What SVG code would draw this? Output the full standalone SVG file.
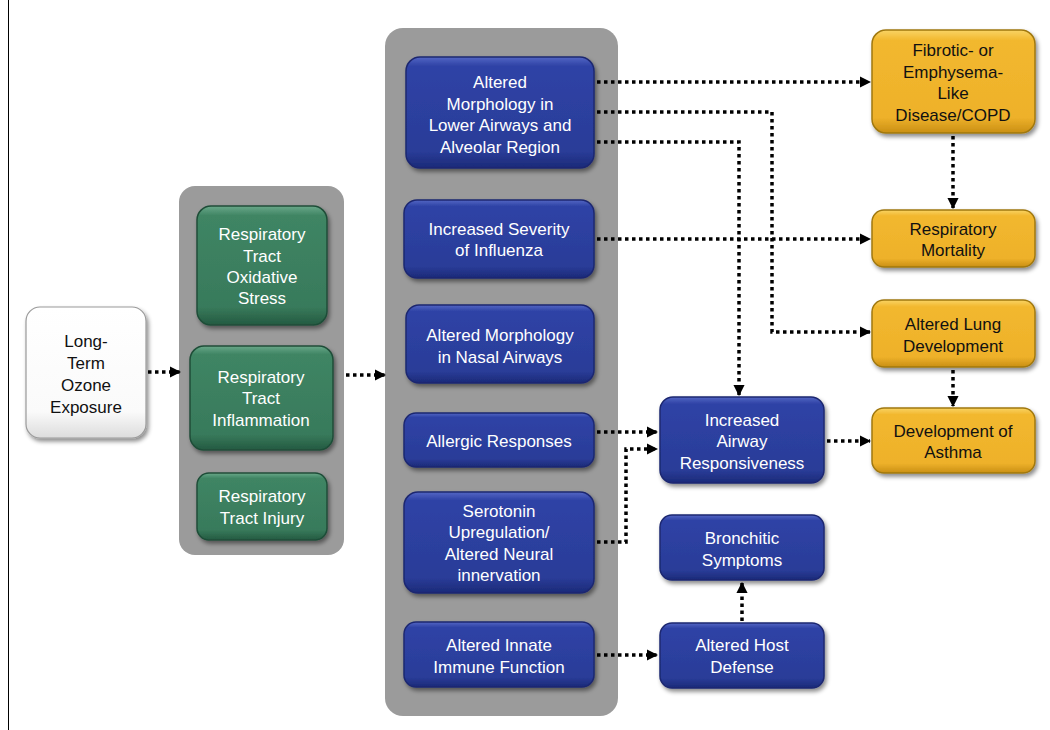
<svg xmlns="http://www.w3.org/2000/svg" width="1050" height="730" viewBox="0 0 1050 730">
<style>
text{font-family:"Liberation Sans",Arial,sans-serif;font-size:17px;text-anchor:middle}
.w{fill:#ffffff}
.k{fill:#111111}
.cont{fill:#9b9b9b}
.blue{fill:url(#gb);stroke:#1c2870;stroke-width:1.5;filter:url(#sh)}
.green{fill:url(#gg);stroke:#1f4d38;stroke-width:1.5;filter:url(#sh)}
.yel{fill:url(#gy);stroke:#a07810;stroke-width:1.5;filter:url(#sh)}
.wht{fill:url(#gw);stroke:#9a9a9a;stroke-width:1.2;filter:url(#sh)}
.c{fill:none;stroke:#000;stroke-width:3.5;stroke-dasharray:3.5 3.5;marker-end:url(#ah)}
</style>
<defs>
<linearGradient id="gb" x1="0" y1="0" x2="0" y2="1">
<stop offset="0" stop-color="#5366c4"/><stop offset="0.08" stop-color="#2f43a6"/><stop offset="0.85" stop-color="#2a3c98"/><stop offset="1" stop-color="#1b2a78"/>
</linearGradient>
<linearGradient id="gg" x1="0" y1="0" x2="0" y2="1">
<stop offset="0" stop-color="#6aa889"/><stop offset="0.08" stop-color="#3f8564"/><stop offset="0.85" stop-color="#387a5b"/><stop offset="1" stop-color="#245a41"/>
</linearGradient>
<linearGradient id="gy" x1="0" y1="0" x2="0" y2="1">
<stop offset="0" stop-color="#f9d465"/><stop offset="0.1" stop-color="#f2b82f"/><stop offset="0.85" stop-color="#eeb12a"/><stop offset="1" stop-color="#c98f14"/>
</linearGradient>
<linearGradient id="gw" x1="0" y1="0" x2="0" y2="1">
<stop offset="0" stop-color="#ffffff"/><stop offset="0.8" stop-color="#fafafa"/><stop offset="1" stop-color="#dcdcdc"/>
</linearGradient>
<filter id="sh" x="-10%" y="-10%" width="130%" height="130%">
<feDropShadow dx="2" dy="3" stdDeviation="2" flood-color="#000" flood-opacity="0.45"/>
</filter>
<marker id="ah" viewBox="0 0 10 10" refX="9" refY="5" markerWidth="3.2" markerHeight="3.2" orient="auto" markerUnits="strokeWidth">
<path d="M0,0 L10,5 L0,10 z" fill="#000"/>
</marker>
</defs>

<line x1="8.5" y1="0" x2="8.5" y2="730" stroke="#000" stroke-width="1"/>

<g id="containers">
<rect class="cont" x="179" y="186" width="165" height="369" rx="16"/>
<rect class="cont" x="385" y="28" width="233" height="688" rx="18"/>
</g>

<g id="connectors">
<path class="c" d="M148,372 L180,372"/>
<path class="c" d="M346,375 L385,375"/>
<path class="c" d="M597,82 L870,82"/>
<path class="c" d="M597,112 L772,112 L772,332 L870,332"/>
<path class="c" d="M597,142 L739,142 L739,395"/>
<path class="c" d="M597,239 L870,239"/>
<path class="c" d="M953,136 L953,208"/>
<path class="c" d="M953,370 L953,406"/>
<path class="c" d="M597,432 L657,432"/>
<path class="c" d="M597,542 L626,542 L626,449 L657,449"/>
<path class="c" d="M827,441 L870,441"/>
<path class="c" d="M597,655 L657,655"/>
<path class="c" d="M742,621 L742,583"/>
</g>

<g id="n-ozone">
<rect class="wht" x="26" y="307" width="120" height="131" rx="14"/>
<text class="k" x="86" y="347">Long-</text>
<text class="k" x="86" y="369">Term</text>
<text class="k" x="86" y="391">Ozone</text>
<text class="k" x="86" y="413">Exposure</text>
</g>

<g id="n-oxid">
<rect class="green" x="197" y="206" width="130" height="119" rx="14"/>
<text class="w" x="262" y="240">Respiratory</text>
<text class="w" x="262" y="262">Tract</text>
<text class="w" x="262" y="283">Oxidative</text>
<text class="w" x="262" y="304">Stress</text>
</g>
<g id="n-inflam">
<rect class="green" x="190" y="346" width="143" height="104" rx="14"/>
<text class="w" x="261" y="383">Respiratory</text>
<text class="w" x="261" y="404">Tract</text>
<text class="w" x="261" y="426">Inflammation</text>
</g>
<g id="n-injury">
<rect class="green" x="197" y="473" width="130" height="67" rx="12"/>
<text class="w" x="262" y="502">Respiratory</text>
<text class="w" x="262" y="524">Tract Injury</text>
</g>

<g id="n-lower">
<rect class="blue" x="406" y="57" width="188" height="111" rx="14"/>
<text class="w" x="500" y="88">Altered</text>
<text class="w" x="500" y="110">Morphology  in</text>
<text class="w" x="500" y="131">Lower Airways and</text>
<text class="w" x="500" y="153">Alveolar  Region</text>
</g>
<g id="n-influenza">
<rect class="blue" x="404" y="200" width="190" height="78" rx="13"/>
<text class="w" x="499" y="235">Increased Severity</text>
<text class="w" x="499" y="256">of Influenza</text>
</g>
<g id="n-nasal">
<rect class="blue" x="406" y="305" width="188" height="78" rx="13"/>
<text class="w" x="500" y="341">Altered Morphology</text>
<text class="w" x="500" y="363">in Nasal Airways</text>
</g>
<g id="n-allergic">
<rect class="blue" x="404" y="413" width="190" height="54" rx="12"/>
<text class="w" x="499" y="447">Allergic  Responses</text>
</g>
<g id="n-serotonin">
<rect class="blue" x="404" y="492" width="190" height="101" rx="14"/>
<text class="w" x="499" y="517">Serotonin</text>
<text class="w" x="499" y="538">Upregulation/</text>
<text class="w" x="499" y="560">Altered Neural</text>
<text class="w" x="499" y="581">innervation</text>
</g>
<g id="n-innate">
<rect class="blue" x="404" y="622" width="190" height="65" rx="12"/>
<text class="w" x="499" y="651">Altered Innate</text>
<text class="w" x="499" y="673">Immune  Function</text>
</g>

<g id="n-airway">
<rect class="blue" x="660" y="397" width="164" height="86" rx="13"/>
<text class="w" x="742" y="426">Increased</text>
<text class="w" x="742" y="447">Airway</text>
<text class="w" x="742" y="469">Responsiveness</text>
</g>
<g id="n-bronchitic">
<rect class="blue" x="660" y="515" width="164" height="65" rx="12"/>
<text class="w" x="742" y="544">Bronchitic</text>
<text class="w" x="742" y="566">Symptoms</text>
</g>
<g id="n-host">
<rect class="blue" x="660" y="623" width="164" height="65" rx="12"/>
<text class="w" x="742" y="651">Altered Host</text>
<text class="w" x="742" y="673">Defense</text>
</g>

<g id="n-copd">
<rect class="yel" x="872" y="30" width="163" height="103" rx="14"/>
<text class="k" x="953" y="56">Fibrotic- or</text>
<text class="k" x="953" y="78">Emphysema-</text>
<text class="k" x="953" y="99">Like</text>
<text class="k" x="953" y="121">Disease/COPD</text>
</g>
<g id="n-mortality">
<rect class="yel" x="872" y="210" width="163" height="57" rx="12"/>
<text class="k" x="953" y="235">Respiratory</text>
<text class="k" x="953" y="256">Mortality</text>
</g>
<g id="n-lungdev">
<rect class="yel" x="872" y="300" width="163" height="67" rx="12"/>
<text class="k" x="953" y="330">Altered Lung</text>
<text class="k" x="953" y="352">Development</text>
</g>
<g id="n-asthma">
<rect class="yel" x="872" y="408" width="163" height="65" rx="12"/>
<text class="k" x="953" y="437">Development  of</text>
<text class="k" x="953" y="458">Asthma</text>
</g>
</svg>
